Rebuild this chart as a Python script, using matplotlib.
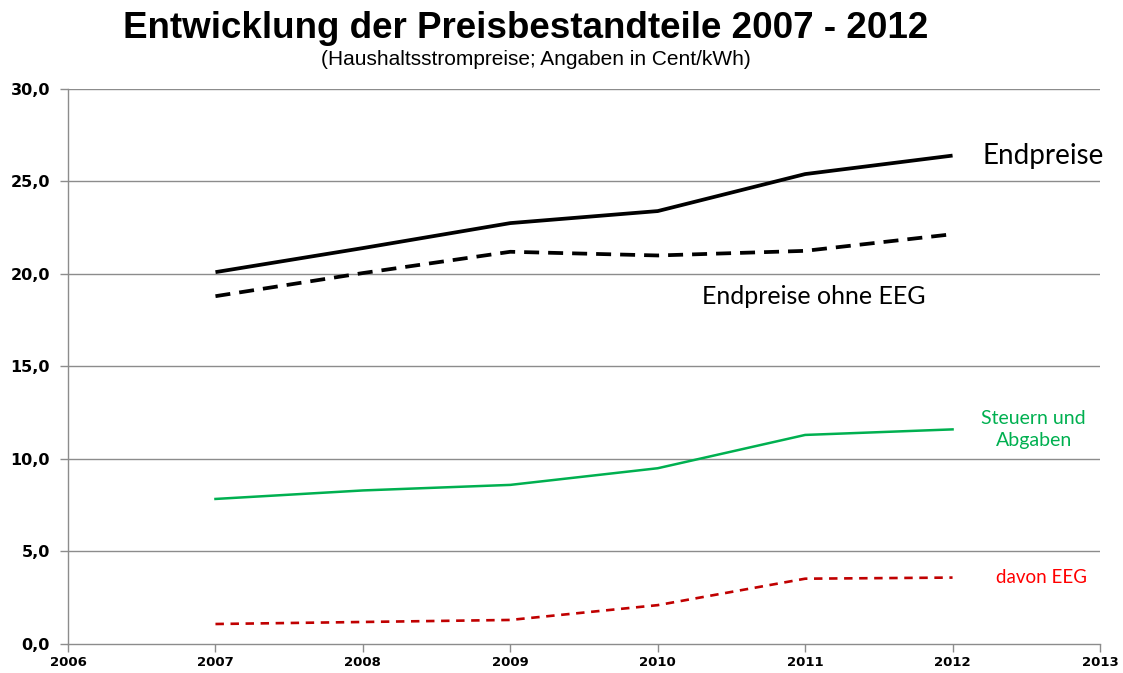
import matplotlib
matplotlib.use("Agg")
import matplotlib.pyplot as plt
from matplotlib.ticker import FuncFormatter

years = [2007, 2008, 2009, 2010, 2011, 2012]
endpreise = [20.1, 21.4, 22.75, 23.4, 25.4, 26.4]
endpreise_ohne_eeg = [18.8, 20.05, 21.2, 21.0, 21.25, 22.15]
steuern_abgaben = [7.84, 8.3, 8.6, 9.5, 11.3, 11.6]
davon_eeg = [1.08, 1.19, 1.3, 2.1, 3.53, 3.59]
x_ticks = [2006, 2007, 2008, 2009, 2010, 2011, 2012, 2013]
y_ticks = [0, 5, 10, 15, 20, 25, 30]

fig = plt.figure(figsize=(11.23, 6.73), dpi=100)
ax = fig.add_axes([0.0606, 0.0431, 0.9189, 0.8247])
grid_c = "#8c8c8c"

ax.plot(years, endpreise, color="black", lw=2.7, solid_capstyle="butt")
ax.plot(years, endpreise_ohne_eeg, color="black", lw=2.7, ls=(0, (4.0, 2.4)),
        dash_capstyle="butt")
ax.plot(years, steuern_abgaben, color="#00B050", lw=1.8)
ax.plot(years, davon_eeg, color="#C00000", lw=1.9, ls=(0, (3.2, 2.5)),
        dash_capstyle="butt")

ax.set_xlim(2006, 2013)
ax.set_ylim(0, 30)
ax.set_xticks(x_ticks)
ax.set_yticks(y_ticks)
ax.yaxis.set_major_formatter(FuncFormatter(lambda v, p: f"{v:.1f}".replace(".", ",")))
for y in y_ticks[1:]:
    ax.axhline(y, color=grid_c, lw=1.0, zorder=0)

for s in ["top", "right"]:
    ax.spines[s].set_visible(False)
for s in ["left", "bottom"]:
    ax.spines[s].set_color(grid_c)
    ax.spines[s].set_linewidth(1.0)
ax.tick_params(axis="both", color=grid_c, length=6, width=1.0)
ax.tick_params(axis="x", pad=3)
ax.tick_params(axis="y", pad=7)
for lab in ax.get_xticklabels():
    lab.set_fontfamily("DejaVu Sans")
    lab.set_fontweight("bold")
    lab.set_fontsize(9.5)
for lab in ax.get_yticklabels():
    lab.set_fontfamily("DejaVu Sans")
    lab.set_fontweight("bold")
    lab.set_fontsize(11.5)

fig.text(0.468, 0.958, "Entwicklung der Preisbestandteile 2007 - 2012", ha="center", va="center",
         fontsize=26.5, fontweight="bold", family="Liberation Sans")
fig.text(0.477, 0.911, "(Haushaltsstrompreise; Angaben in Cent/kWh)", ha="center", va="center",
         fontsize=15, family="Liberation Sans")

ax.text(2012.2, 26.4, "Endpreise", ha="left", va="center", fontsize=20, family="Lato")
ax.text(2010.3, 18.8, "Endpreise ohne EEG", ha="left", va="center", fontsize=18, family="Lato")
ax.text(2012.55, 11.6, "Steuern und\nAbgaben", ha="center", va="center", fontsize=14,
        family="Lato", color="#00B050", linespacing=1.35)
ax.text(2012.6, 3.6, "davon EEG", ha="center", va="center", fontsize=13.5, family="Lato",
        color="#FF0000")

fig.savefig("out.png", dpi=100)
